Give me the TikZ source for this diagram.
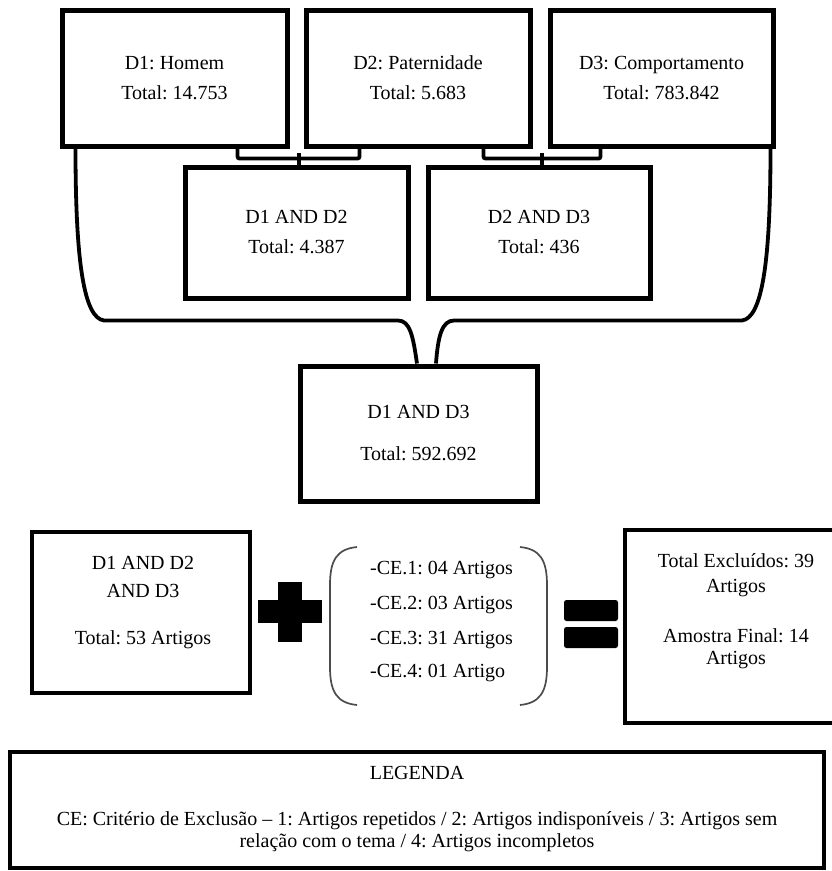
\documentclass[tikz,border=0pt]{standalone}
\usepackage{fontspec}
\setmainfont{Liberation Serif}
\frenchspacing
\begin{document}
\begin{tikzpicture}[x=1pt,y=-1pt,
  box/.style={draw=black, line width=5pt, rectangle, inner sep=0pt, align=center,
    font=\fontsize{20}{30}\selectfont},
  txt/.style={font=\fontsize{20}{30}\selectfont, inner sep=0pt, anchor=base},
  conn/.style={line width=3.8pt, draw=black},
  paren/.style={line width=1.7pt, draw=black!70}]
\fill[white] (0,0) rectangle (831,871);
\useasboundingbox (0,0) rectangle (831,871);

% top row
\node[box, minimum width=225, minimum height=136] (D1) at (174.5,78) {D1: Homem\\Total: 14.753};
\node[box, minimum width=224, minimum height=136] (D2) at (418,78) {D2: Paternidade\\Total: 5.683};
\node[box, minimum width=223, minimum height=136] (D3) at (661.5,78) {D3: Comportamento\\Total: 783.842};

% second row
\node[box, minimum width=223, minimum height=131] (D12) at (296.5,232.5) {D1 AND D2\\Total: 4.387};
\node[box, minimum width=222, minimum height=131] (D23) at (539,232.5) {D2 AND D3\\Total: 436};

% third row
\node[box, minimum width=237, minimum height=135] (D13) at (418.5,433.5) {D1 AND D3\\[12pt]Total: 592.692};

% brackets
\draw[conn, rounded corners=2pt] ([xshift=178pt]D1.south west) -- ++(0,10) -| ([xshift=56pt]D2.south west);
\draw[conn] ([xshift=2.5pt,yshift=-2pt]D12.north) -- ++(0,-14);
\draw[conn, rounded corners=2pt] ([xshift=-49pt]D2.south east) -- ++(0,10) -| ([xshift=53pt]D3.south west);
\draw[conn] ([xshift=3pt,yshift=-2pt]D23.north) -- ++(0,-14);

% long curves to D1 AND D3
\draw[conn] ([xshift=16pt]D1.south west) .. controls ++(0,114) and (84,318) .. (104,320.5)
  -- (398,320.5) .. controls (410,320.5) and (413,336) .. ([xshift=-1.5pt]D13.north);
\draw[conn] ([xshift=-5pt]D3.south east) .. controls ++(0,114) and (762,318) .. (742,320.5)
  -- (454,320.5) .. controls (442,320.5) and (438,336) .. ([xshift=17.5pt]D13.north);

% bottom row
\node[box, line width=4.5pt, minimum width=218, minimum height=161] (BL) at (141,612.5) {};
\node[txt] (bl1) at (143,569) {D1 AND D2};
\node[txt] (bl2) at (143,597) {AND D3};
\node[txt] (bl3) at (143,644) {Total: 53 Artigos};

% plus
\fill[black] (278,582) rectangle (302,642);
\fill[black] (258,600) rectangle (322,623);

% parentheses
\draw[paren] (357,547) .. controls (337,549) and (330,560) .. (330,585) -- (330,667)
  .. controls (330,692) and (337,703) .. (357,705);
\draw[paren] (520,547) .. controls (540,549) and (547,560) .. (547,585) -- (547,667)
  .. controls (547,692) and (540,703) .. (520,705);
\node[txt, anchor=base west] (ce1) at (370,574) {-CE.1: 04 Artigos};
\node[txt, anchor=base west] (ce2) at (370,609) {-CE.2: 03 Artigos};
\node[txt, anchor=base west] (ce3) at (370,644) {-CE.3: 31 Artigos};
\node[txt, anchor=base west] (ce4) at (370,677) {-CE.4: 01 Artigo};

% equals
\fill[black, rounded corners=2.5pt] (564,600) rectangle (618,621);
\fill[black, rounded corners=2.5pt] (564,627) rectangle (618,648);

% result box
\node[box, line width=4.5pt, minimum width=222, minimum height=193] (R) at (736,626.5) {};
\node[txt] (r1) at (736,567) {Total Excluídos: 39};
\node[txt] (r2) at (736,592) {Artigos};
\node[txt] (r3) at (736,642) {Amostra Final: 14};
\node[txt] (r4) at (736,664) {Artigos};

% legend
\node[box, line width=4pt, minimum width=814, minimum height=116] (LEG) at (417,810) {};
\node[txt] (l1) at (417,779) {LEGENDA};
\node[txt] (l2) at (417,825) {CE: Critério de Exclusão – 1: Artigos repetidos / 2: Artigos indisponíveis / 3: Artigos sem};
\node[txt] (l3) at (417,847) {relação com o tema / 4: Artigos incompletos};
\end{tikzpicture}
\end{document}
